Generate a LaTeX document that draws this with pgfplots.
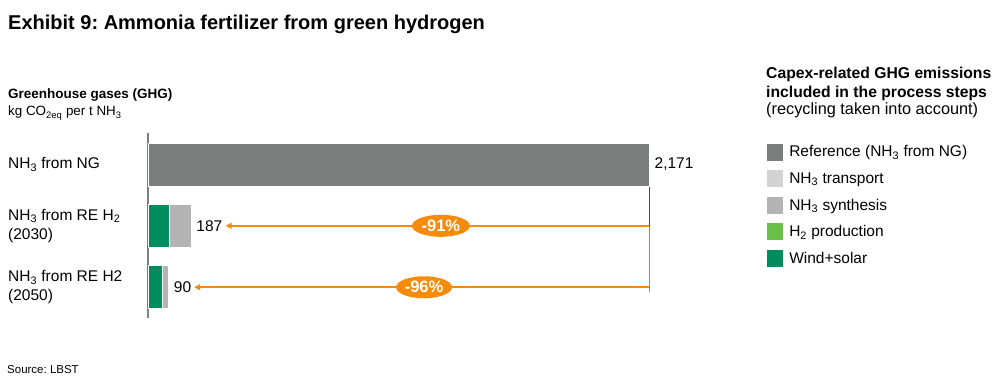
\documentclass[border=0pt]{standalone}
\usepackage{fontspec}
\setmainfont{Liberation Sans}
\usepackage{pgfplots}
\pgfplotsset{compat=1.18}
\usetikzlibrary{arrows.meta,shapes.geometric}
\definecolor{refgray}{HTML}{7A7D7C}
\definecolor{synthgray}{HTML}{B3B3B3}
\definecolor{transgray}{HTML}{D3D3D3}
\definecolor{h2green}{HTML}{6CC04A}
\definecolor{windgreen}{HTML}{008C5C}
\definecolor{arrorange}{HTML}{F68B0A}
\definecolor{axisgray}{HTML}{7F7F7F}
\newcommand\sub[1]{\textsubscript{#1}}
\frenchspacing
\begin{document}
\begin{tikzpicture}
\useasboundingbox (0pt,0pt) rectangle (1002pt,-385pt);
\node[anchor=base west, inner sep=0, font=\fontsize{20}{24}\selectfont\bfseries] at (8pt,-29.3pt) {Exhibit 9: Ammonia fertilizer from green hydrogen};
\node[anchor=base west, inner sep=0, font=\fontsize{13.5}{18}\selectfont\bfseries] at (8pt,-98.7pt) {Greenhouse gases (GHG)};
\node[anchor=base west, inner sep=0, font=\fontsize{13.4}{18}\selectfont] at (8pt,-116pt) {kg CO\sub{2eq} per t NH\sub{3}};
\node[anchor=base west, inner sep=0, font=\fontsize{15.7}{18}\selectfont\bfseries] at (766pt,-79pt) {Capex-related GHG emissions};
\node[anchor=base west, inner sep=0, font=\fontsize{15.7}{18}\selectfont\bfseries] at (766pt,-97.5pt) {included in the process steps};
\node[anchor=base west, inner sep=0, font=\fontsize{16.3}{18}\selectfont] at (766pt,-115pt) {(recycling taken into account)};
\node[anchor=base west, inner sep=0, font=\fontsize{11.5}{14}\selectfont] at (7pt,-373.3pt) {Source: LBST};
\begin{axis}[
  at={(148pt,-318pt)}, anchor=south west, scale only axis,
  width=501.5pt, height=185pt,
  xmin=0, xmax=2171, ymin=-0.51, ymax=2.5, y dir=reverse,
  xbar stacked, bar width=43pt, clip=false,
  axis x line=none, axis y line*=left,
  y axis line style={color=axisgray, line width=1.4pt},
  ytick={0,1,2},
  yticklabels={{NH\sub{3} from NG},{NH\sub{3} from RE H\sub{2}\\(2030)},{NH\sub{3} from RE H2\\(2050)}},
  major tick length=0pt,
  yticklabel style={anchor=west, xshift=-140pt, inner sep=0pt, align=left, font=\fontsize{15.5}{19}\selectfont},
  reverse legend,
  legend image code/.code={\path[#1] (0pt,-9pt) rectangle (17pt,9pt);},
  legend style={draw=none, fill=none, inner sep=0pt, outer sep=0pt,
    at={(1.2317,0.9476)}, anchor=north west, row sep=8pt, column sep=6pt,
    font=\fontsize{15.5}{18}\selectfont, nodes={inner sep=0pt}},
  legend cell align=left,
]
\addplot[fill=windgreen, draw=white, line width=0.6pt] coordinates {(0,0) (92,1) (63,2)};
\addplot[fill=h2green, draw=white, line width=0.6pt] coordinates {(0,0) (0,1) (0,2)};
\addplot[fill=synthgray, draw=white, line width=0.6pt] coordinates {(0,0) (95,1) (27,2)};
\addplot[fill=transgray, draw=white, line width=0.6pt] coordinates {(0,0) (0,1) (0,2)};
\addplot[fill=refgray, draw=white, line width=0.6pt] coordinates {(2171,0) (0,1) (0,2)};
\legend{Wind+solar, H\sub{2} production, NH\sub{3} synthesis, NH\sub{3} transport, Reference (NH\sub{3} from NG)}
\draw[color=black!70, line width=1.3pt] (axis cs:2171,0.35) -- (axis cs:2171,1);
\draw[color=black!45, line width=1.3pt] (axis cs:2171,1) -- (axis cs:2171,2.07);
\draw[arrorange, line width=1.6pt, -{Triangle[length=6pt,width=6pt]}] (axis cs:2171,1) -- (axis cs:336,1);
\draw[arrorange, line width=1.6pt, -{Triangle[length=6pt,width=6pt]}] (axis cs:2171,2) -- (axis cs:200,2);
\coordinate (c1) at (axis cs:1268,1);
\coordinate (c2) at (axis cs:1195,2);
\node[anchor=west, inner sep=0pt, font=\fontsize{15.5}{18}\selectfont] at (axis cs:2171,0) [xshift=5pt] {2,171};
\node[anchor=west, inner sep=0pt, font=\fontsize{15.5}{18}\selectfont] at (axis cs:187,1) [xshift=5pt] {187};
\node[anchor=west, inner sep=0pt, font=\fontsize{15.5}{18}\selectfont] at (axis cs:90,2) [xshift=5pt] {90};
\end{axis}
\node[ellipse, fill=arrorange, minimum width=58pt, minimum height=22pt, inner sep=0pt, text=white, font=\fontsize{16.5}{18}\selectfont\bfseries] at (c1) {-91\%};
\node[ellipse, fill=arrorange, minimum width=56pt, minimum height=22pt, inner sep=0pt, text=white, font=\fontsize{16.5}{18}\selectfont\bfseries] at (c2) {-96\%};
\end{tikzpicture}
\end{document}
